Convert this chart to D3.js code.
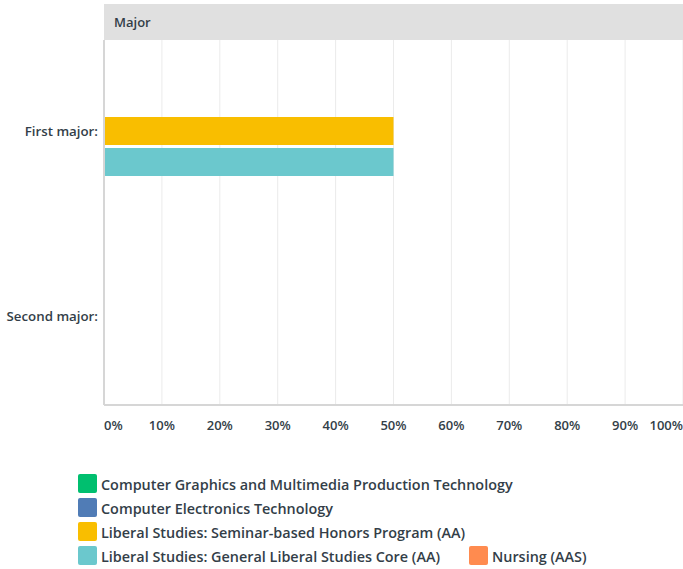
<!DOCTYPE html>
<html>
<head>
<meta charset="utf-8">
<script src="https://cdn.jsdelivr.net/npm/d3@7"></script>
<style>
html,body{margin:0;padding:0;background:#fff;}
svg{display:block;}
text{font-family:"Open Sans",Roboto,sans-serif;fill:#333e48;font-weight:600;}
</style>
</head>
<body>
<svg id="chart" width="683" height="569"></svg>
<script>
const title = "Major";
const categories = ["First major:", "Second major:"];
const seriesNames = [
  "Computer Graphics and Multimedia Production Technology",
  "Computer Electronics Technology",
  "Liberal Studies: Seminar-based Honors Program (AA)",
  "Liberal Studies: General Liberal Studies Core (AA)",
  "Nursing (AAS)"
];
const seriesColors = ["#00bf6f", "#507cb6", "#f9be00", "#6bc8cd", "#ff8b4f"];
const values = [
  [0, 0, 50, 50, 0],   // First major
  [0, 0, 0, 0, 0]      // Second major
];
const tickValues = [0, 10, 20, 30, 40, 50, 60, 70, 80, 90, 100];

(function () {
const svg = d3.select("#chart");
const pLeft = 104, pRight = 683, pTop = 40, pBottom = 404;

const x = d3.scaleLinear().domain([0, 100]).range([pLeft, pRight]);
const y = d3.scaleBand().domain(categories).range([pTop, pBottom]);
const barH = 28, gap = 3;
const groupH = seriesNames.length * barH + (seriesNames.length - 1) * gap;

// header
svg.append("rect").attr("x", pLeft).attr("y", 4).attr("width", pRight - pLeft).attr("height", pTop - 4).attr("fill", "#e0e0e0");
svg.append("text").attr("x", pLeft + 10).attr("y", 22).attr("dominant-baseline", "central")
  .attr("font-size", 13).text(title);

// gridlines
svg.append("g").selectAll("line").data(tickValues.slice(1)).join("line")
  .attr("x1", d => x(d)).attr("x2", d => x(d)).attr("y1", pTop).attr("y2", pBottom)
  .attr("stroke", "#ebebeb").attr("stroke-width", 1);

// bars
categories.forEach((c, ci) => {
  const y0 = y(c) + y.bandwidth() / 2 - groupH / 2;
  svg.append("g").selectAll("rect").data(values[ci].map((v, si) => ({v, si})).filter(d => d.v > 0)).join("rect")
    .attr("x", x(0)).attr("y", d => y0 + d.si * (barH + gap))
    .attr("width", d => x(d.v) - x(0)).attr("height", barH)
    .attr("fill", d => seriesColors[d.si]);
});

// axes lines
svg.append("line").attr("x1", pLeft).attr("x2", pLeft).attr("y1", pTop).attr("y2", pBottom + 1)
  .attr("stroke", "#d6d6d6").attr("stroke-width", 2);
svg.append("line").attr("x1", pLeft).attr("x2", pRight).attr("y1", pBottom + 1).attr("y2", pBottom + 1)
  .attr("stroke", "#d6d6d6").attr("stroke-width", 2);

// category labels
svg.append("g").selectAll("text").data(categories).join("text")
  .attr("x", pLeft - 6).attr("y", (d, i) => y(d) + y.bandwidth() / 2 + (i === 1 ? 3 : 0))
  .attr("text-anchor", "end").attr("dominant-baseline", "central")
  .attr("font-size", 13.3).text(d => d);

// tick labels
svg.append("g").selectAll("text").data(tickValues).join("text")
  .attr("x", d => d === 100 ? pRight : x(d))
  .attr("y", 425).attr("dominant-baseline", "central")
  .attr("text-anchor", d => d === 0 ? "start" : d === 100 ? "end" : "middle")
  .attr("font-size", 13).text(d => d + "%");

// legend
const legendItems = [
  {i: 0, x: 78, y: 474}, {i: 1, x: 78, y: 498}, {i: 2, x: 78, y: 522},
  {i: 3, x: 78, y: 546}, {i: 4, x: 469, y: 546}
];
const lg = svg.append("g").selectAll("g").data(legendItems).join("g")
  .attr("transform", d => `translate(${d.x},${d.y})`);
lg.append("rect").attr("width", 19).attr("height", 19).attr("rx", 2)
  .attr("fill", d => seriesColors[d.i]);
lg.append("text").attr("x", 23).attr("y", 10).attr("dominant-baseline", "central")
  .attr("font-size", 14.4).text(d => seriesNames[d.i]);
})();
</script>
</body>
</html>
